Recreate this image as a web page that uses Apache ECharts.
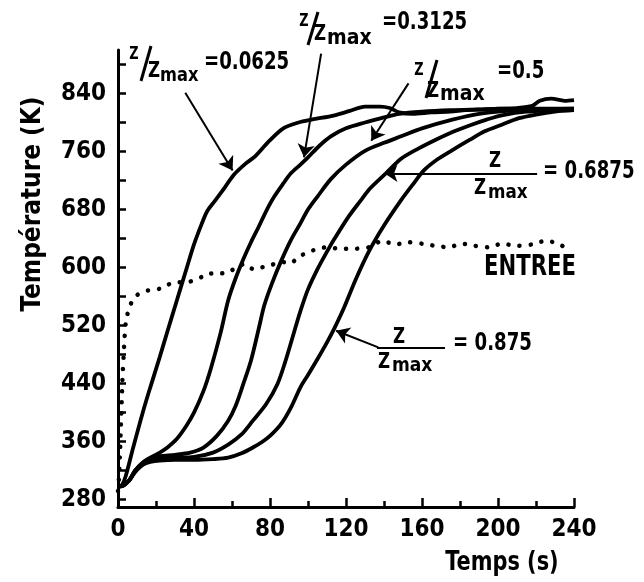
<!DOCTYPE html>
<html>
<head>
<meta charset="utf-8">
<script src="https://cdn.jsdelivr.net/npm/echarts@6/dist/echarts.min.js"></script>
<style>html,body{margin:0;padding:0;background:#fff}#c{width:644px;height:582px}</style>
</head>
<body>
<div id="c"></div>
<script>
// ---- data: [time (s), temperature (K)] ----
const curve0625 = [[0,298],[2,300],[4,312],[8,352],[13,400],[17,435],[22,477],[26,512],[31,555],[36,598],[40,632],[44,660],[47,678],[51,692],[55,706],[61,728],[67,743],[72,753],[79,773],[87,792],[95,800],[102,804],[114,810],[122,816],[130,822],[138,822],[143,820],[148,814],[155,812],[165,814],[175,815],[183,817],[192,818],[200,819],[210,820],[218,823],[222,830],[228,833],[235,830],[240,831]];
const curve3125 = [[0,298],[3,300],[6,307],[9,320],[13,331],[17,338],[22,345],[26,352],[31,364],[36,382],[40,400],[45,430],[49,462],[54,510],[58,555],[62,586],[66,612],[70,635],[74,656],[78,678],[82,697],[87,716],[91,730],[96,742],[100,752],[106,768],[112,781],[120,792],[130,800],[140,807],[148,812],[160,815],[175,817],[190,818],[205,819],[220,819],[240,819]];
const curve5000 = [[0,298],[3,300],[6,307],[9,320],[13,331],[17,337],[22,340],[30,342],[38,345],[45,352],[52,368],[58,389],[62,410],[66,440],[70,472],[74,515],[77,548],[81,578],[86,610],[91,638],[96,661],[100,680],[105,698],[112,722],[120,742],[130,761],[140,772],[149,781],[160,792],[176,804],[190,812],[205,816],[220,818],[240,819]];
const curve6875 = [[0,298],[3,300],[6,307],[9,320],[13,330],[17,335],[22,337],[30,338],[40,339],[50,345],[58,356],[65,370],[71,389],[78,412],[84,440],[88,470],[92,505],[96,540],[100,570],[105,598],[110,622],[114,640],[121,669],[127,690],[133,710],[141,730],[149,750],[158,764],[167,776],[176,787],[185,796],[194,804],[202,810],[215,815],[240,818]];
const curve8750 = [[0,298],[3,300],[6,307],[9,318],[13,328],[17,332],[22,334],[30,335],[40,335],[50,336],[58,338],[65,344],[71,352],[76,360],[80,368],[86,385],[91,407],[96,435],[100,452],[105,474],[110,497],[114,517],[119,545],[125,583],[132,622],[140,658],[149,693],[155,714],[161,734],[168,749],[176,762],[185,776],[193,788],[202,797],[211,806],[220,811],[230,815],[240,817]];
const entree = [[0,292],[0.5,310],[1,340],[1.5,380],[2,420],[2.5,455],[3,480],[3.5,505],[4,522],[5,536],[6,546],[8,556],[10,562],[13,567],[17,569],[22,571],[26,576],[30,580],[35,580],[40,582],[44,587],[48,592],[53,592],[58,593],[63,602],[67,605],[71,598],[75,600],[80,603],[86,608],[91,606],[95,615],[100,621],[105,626],[110,628],[117,626],[124,626],[132,628],[139,637],[146,632],[153,635],[160,633],[167,630],[174,628],[181,633],[188,630],[195,628],[202,633],[210,630],[218,632],[225,637],[232,633],[237,624]];

const xTicks = [0,40,80,120,160,200,240];
const yLabels = [280,360,440,520,600,680,760,840];
const yTicks = [280,320,360,400,440,480,520,560,600,640,680,720,760,800,840,880];

// annotation arrows (data coordinates): [from, to]
const arrows = [
  [[35.4,841],[60.3,734]],
  [[106.9,895],[97.9,752]],
  [[152.9,854],[133.3,775]],
  [[220.6,730],[140.2,730]],
  [[137,490],[114.8,513]]
];

const FONT = "'DejaVu Sans Condensed','DejaVu Sans',sans-serif";
function txt(x, y, text, size, align, rot, sx) {
  return {type:'text', x:x, y:y, rotation: rot || 0, scaleX: sx || 0.84,
    style:{text:text, font:'bold ' + size + 'px ' + FONT, fill:'#000', align: align || 'left', verticalAlign:'middle'}};
}
function ln(x1, y1, x2, y2, w) {
  return {type:'line', shape:{x1:x1, y1:y1, x2:x2, y2:y2}, style:{stroke:'#000', lineWidth: w || 2.5}};
}

const curveStyle = {color:'#000', width:3.8};
function curve(name, data) {
  return {name:name, type:'line', data:data, smooth:0.3, showSymbol:false, symbol:'none',
    lineStyle:curveStyle, itemStyle:{color:'#000'}, silent:true};
}

const chart = echarts.init(document.getElementById('c'), null, {renderer:'canvas'});
const series = [
  curve('0.0625', curve0625),
  curve('0.3125', curve3125),
  curve('0.5', curve5000),
  curve('0.6875', curve6875),
  curve('0.875', curve8750),
  {name:'ENTREE', type:'line', data:entree, smooth:0.2, showSymbol:false, symbol:'none', silent:true,
   lineStyle:{color:'#000', width:4.5, type:[0.1, 11], cap:'round'}}
];
series[0].markLine = {
  silent:true, animation:false, symbol:['none','arrow'], symbolSize:13,
  lineStyle:{color:'#000', width:2, type:'solid'}, label:{show:false},
  data: arrows.map(a => [{coord:a[0]}, {coord:a[1]}])
};

const labelFont = {color:'#000', fontSize:24, fontWeight:'bold', fontFamily:FONT};

chart.setOption({
  animation:false,
  backgroundColor:'#fff',
  grid:{left:118, right:70, top:50, bottom:75, containLabel:false},
  xAxis:{type:'value', min:0, max:240, interval:40,
    axisLine:{show:true, lineStyle:{color:'#000', width:3}},
    axisTick:{show:true, inside:true, length:9, lineStyle:{color:'#000', width:2.5}},
    minorTick:{show:true, splitNumber:2, length:6, lineStyle:{color:'#000', width:2.5}},
    splitLine:{show:false},
    axisLabel:Object.assign({margin:11, customValues:xTicks}, labelFont)
  },
  yAxis:{type:'value', min:270, max:900,
    axisLine:{show:true, lineStyle:{color:'#000', width:3}},
    axisTick:{show:true, inside:true, length:8, lineStyle:{color:'#000', width:2.5}, customValues:yTicks},
    splitLine:{show:false},
    axisLabel:Object.assign({margin:12, customValues:yLabels}, labelFont)
  },
  series:series,
  graphic:[
    // axis titles
    txt(33, 204, 'Température (K)', 27, 'center', Math.PI/2, 0.96),
    txt(502, 563, 'Temps (s)', 27, 'center', 0, 0.86),
    // Z/Zmax = 0.0625
    txt(134, 55, 'Z', 17, 'center'), ln(151,46,141,81,3), txt(154, 71, 'Z', 22, 'center'),
    txt(160, 76, 'max', 19, 'left', 0, 0.95), txt(204, 63, '=0.0625', 24),
    // Z/Zmax = 0.3125
    txt(304, 22, 'Z', 17, 'center'), ln(318,12,308,45,3), txt(320, 34, 'Z', 22, 'center'),
    txt(327, 39, 'max', 21, 'left', 0, 1.0), txt(382, 23, '=0.3125', 24),
    // Z/Zmax = 0.5
    txt(419, 71, 'Z', 17, 'center'), ln(437,60,426,98,3), txt(433, 91, 'Z', 22, 'center'),
    txt(440, 95, 'max', 21, 'left', 0, 1.0), txt(497, 72, '=0.5', 24),
    // Z over Zmax = 0.6875
    txt(495, 161, 'Z', 22, 'center'), txt(480, 188, 'Z', 22, 'center'),
    txt(488, 193, 'max', 19, 'left', 0, 0.98), txt(543, 172, '= 0.6875', 24),
    // Z over Zmax = 0.875
    txt(399, 337, 'Z', 22, 'center'), ln(377,348,445,348,2), txt(384, 362, 'Z', 22, 'center'),
    txt(392, 366, 'max', 19, 'left', 0, 1.0), txt(453, 344, '= 0.875', 24),
    // ENTREE
    txt(530, 268, 'ENTREE', 28, 'center', 0, 0.84)
  ]
});
</script>
</body>
</html>
